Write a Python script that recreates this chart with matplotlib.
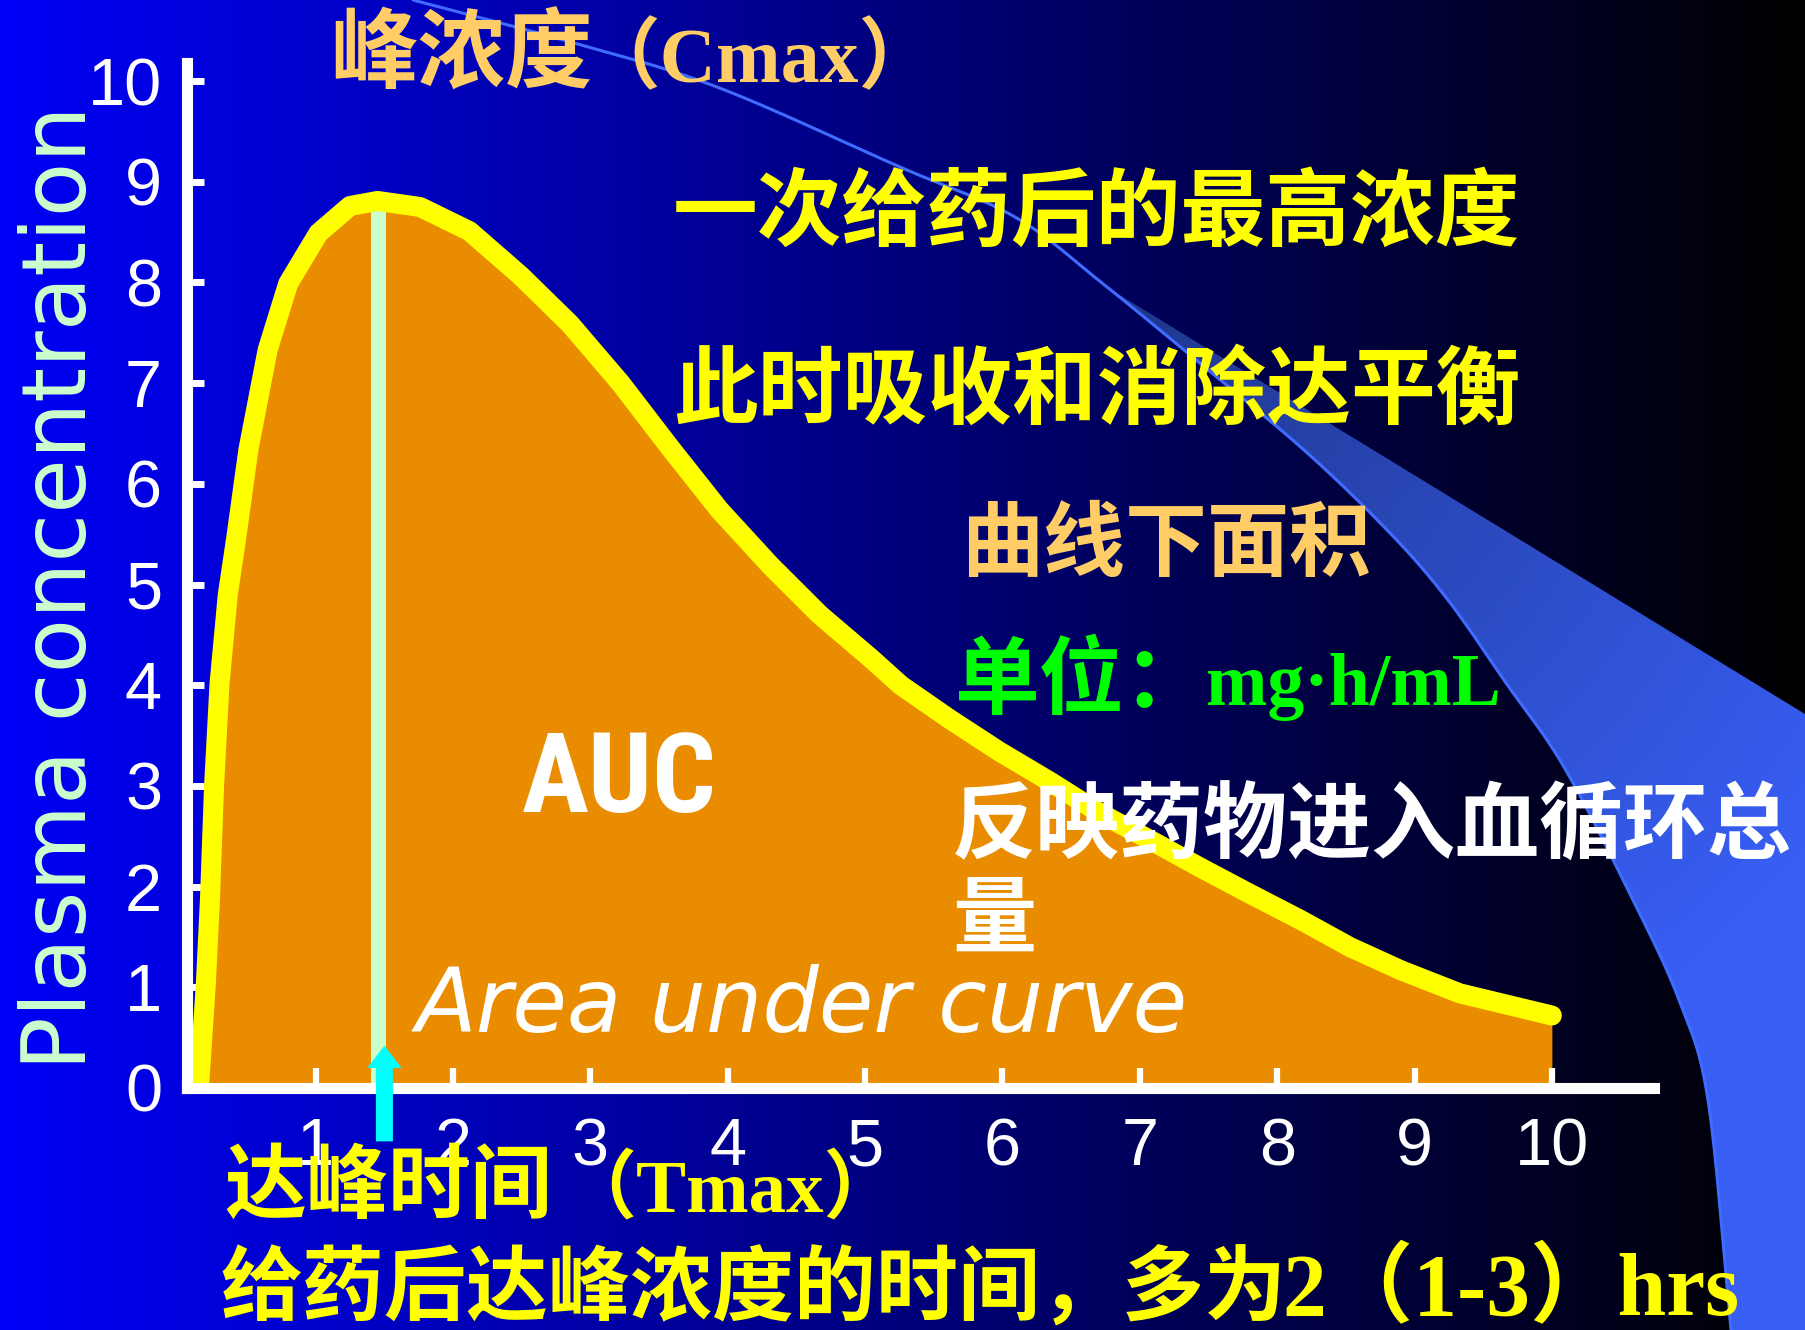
import numpy as np
import matplotlib
matplotlib.use("Agg")
import matplotlib.pyplot as plt
from matplotlib import font_manager
from matplotlib.patches import Polygon, FancyArrow

# Plasma concentration after a single oral dose (time in hours)
time_h = [0.15, 0.20, 0.23, 0.26, 0.30, 0.36, 0.42, 0.51, 0.65, 0.80, 1.02,
          1.25, 1.45, 1.76, 2.12, 2.49, 2.85, 3.22, 3.58, 3.94, 4.31, 4.67,
          5.04, 5.26, 5.62, 5.98, 6.35, 6.71, 7.08, 7.44, 7.80, 8.17, 8.53,
          8.90, 9.33, 10.0]
conc = [0.00, 1.03, 1.87, 3.00, 4.02, 4.90, 5.45, 6.34, 7.33, 7.99, 8.49,
        8.76, 8.81, 8.75, 8.51, 8.07, 7.59, 7.00, 6.36, 5.74, 5.19, 4.70,
        4.27, 4.00, 3.66, 3.34, 3.04, 2.73, 2.46, 2.19, 1.93, 1.67, 1.40,
        1.17, 0.94, 0.72]

x_ticks = [1, 2, 3, 4, 5, 6, 7, 8, 9, 10]
x_tick_labels = ["1", "2", "3", "4", "5", "6", "7", "8", "9", "10"]
y_ticks = [0, 1, 2, 3, 4, 5, 6, 7, 8, 9, 10]
y_tick_labels = ["0", "1", "2", "3", "4", "5", "6", "7", "8", "9", "10"]

# Tmax pointer (time, and the y-range it spans below / above the axis)
arrow_time = 1.5
arrow_from, arrow_to = -0.53, 0.42

W, H = 1805, 1330
fig = plt.figure(figsize=(W / 100, H / 100), dpi=100)

# ---------- slide background ----------
bg = fig.add_axes([0, 0, 1, 1], zorder=-10)
bg.set_xlim(0, W)
bg.set_ylim(H, 0)
bg.axis("off")
gx = np.linspace(0, 1, 600)
grad = np.zeros((2, gx.size, 3))
grad[..., 2] = 0.97 * (1 - gx)
bg.imshow(grad, extent=(0, W, H, 0), aspect="auto", interpolation="bilinear")


def catmull_rom(pts, n=24):
    pts = np.asarray(pts, float)
    p = np.vstack([2 * pts[0] - pts[1], pts, 2 * pts[-1] - pts[-2]])
    out = []
    for i in range(1, len(p) - 2):
        p0, p1, p2, p3 = p[i - 1], p[i], p[i + 1], p[i + 2]
        t = np.linspace(0, 1, n, endpoint=False)[:, None]
        out.append(0.5 * ((2 * p1) + (-p0 + p2) * t
                          + (2 * p0 - 5 * p1 + 4 * p2 - p3) * t ** 2
                          + (-p0 + 3 * p1 - 3 * p2 + p3) * t ** 3))
    out.append(pts[-1][None, :])
    return np.vstack(out)


arc_nodes = [(413, 0), (574, 43), (717, 87), (900, 167), (1015, 217),
             (1102, 283), (1196, 360), (1304, 450), (1390, 533), (1448, 600),
             (1506, 683), (1564, 767), (1633, 900), (1679, 1000),
             (1708, 1100), (1731, 1330)]
arc = catmull_rom(arc_nodes)
tip = np.array([1105.0, 286.0])
start = np.argmin(np.hypot(arc[:, 0] - tip[0], arc[:, 1] - tip[1]))
wedge_xy = np.vstack([arc[start:], [[W, H], [W, 714], tip]])
wedge = Polygon(wedge_xy, closed=True, facecolor="none", edgecolor="none")
bg.add_patch(wedge)

gxs = np.linspace(1090, W, 300)
gys = np.linspace(270, H, 300)
GX, GY = np.meshgrid(gxs, gys)
t = np.clip(np.hypot(GX - tip[0], GY - tip[1]) / 900.0, 0, 1)[..., None]
c0 = np.array([0.12, 0.21, 0.54])
c1 = np.array([0.22, 0.37, 0.96])
wimg = c0 * (1 - t) + c1 * t
im = bg.imshow(wimg, extent=(1090, W, H, 270), aspect="auto",
               interpolation="bilinear")
im.set_clip_path(wedge)
bg.plot(arc[:, 0], arc[:, 1], color="#3f6cff", lw=2.2, solid_capstyle="round")

# ---------- concentration-time chart ----------
x_lo, x_hi = 0.063, 10.74
y_lo, y_hi = 0.0, 10.18
ax = fig.add_axes([187 / W, (H - 1088) / H, (1653.5 - 187) / W, (1088 - 63) / H])
ax.set_facecolor("none")
ax.set_xlim(x_lo, x_hi)
ax.set_ylim(y_lo, y_hi)

ax.fill_between(time_h, conc, 0, color="#e98c00", lw=0, zorder=1)
i_peak = int(np.argmax(conc))
t_max, c_max = time_h[i_peak], conc[i_peak]
ax.vlines(t_max, 0, c_max, color="#ccffcc", lw=10.8, zorder=1.6)
ax.plot(time_h, conc, color="#ffff00", lw=14.4, solid_capstyle="round",
        solid_joinstyle="round", zorder=2)

ax.add_patch(FancyArrow(arrow_time, arrow_from, 0, arrow_to - arrow_from,
                        width=0.124, head_width=0.25, head_length=0.22,
                        length_includes_head=True, color="#00ffff", lw=0,
                        clip_on=False, zorder=5))

ax.set_xticks(x_ticks, x_tick_labels)
ax.set_yticks(y_ticks, y_tick_labels)
ax.tick_params(axis="x", direction="in", length=14.5, width=4.5, pad=21,
               colors="white", labelsize=48)
ax.tick_params(axis="y", direction="in", length=12.5, width=5, pad=18,
               colors="white", labelsize=48)
for lab in ax.get_xticklabels() + ax.get_yticklabels():
    lab.set_fontfamily("Liberation Sans")
for side in ("top", "right"):
    ax.spines[side].set_visible(False)
for side in ("left", "bottom"):
    ax.spines[side].set_color("white")
    ax.spines[side].set_linewidth(8)
    ax.spines[side].set_zorder(3)

ax.set_ylabel("Plasma concentration", color="#ccffcc", fontsize=64,
              family="DejaVu Sans", va="baseline")
ax.yaxis.set_label_coords((86 - 187) / 1466.5, (1088 - 588) / 1025)

# ---------- annotations ----------
CJK = ["Noto Sans CJK SC", "DejaVu Sans"]
MIX = ["Liberation Serif", "Noto Sans CJK SC", "DejaVu Sans"]
ORANGE = "#ffcc66"
YELLOW = "#ffff00"
GREEN = "#00ff00"
WHITE = "#ffffff"


def pick_narrow_sans():
    fonts = font_manager.fontManager.ttflist
    names = {f.name for f in fonts}
    for name in ("Liberation Sans Narrow", "Roboto Condensed",
                 "Open Sans Condensed", "DejaVu Sans Condensed"):
        if name in names:
            return name, "normal"
    for f in fonts:
        if f.name in ("Roboto", "Open Sans", "DejaVu Sans", "Noto Sans") and \
                str(f.stretch) in ("condensed", "semi-condensed", "extra-condensed"):
            return f.name, str(f.stretch)
    return "Liberation Sans", "normal"


def put(s, x, y, color, size, family, **kw):
    return fig.text(x / W, 1 - y / H, s, color=color, fontsize=size,
                    family=family, ha="left", va="baseline", **kw)


put("峰浓度", 330, 82, ORANGE, 63, CJK, weight="bold")
put("（Cmax）", 582, 82, ORANGE, 56, MIX, weight="bold")
put("一次给药后的最高浓度", 673, 239, YELLOW, 61, CJK, weight="bold")
put("此时吸收和消除达平衡", 673, 417, YELLOW, 61, CJK, weight="bold")
put("曲线下面积", 961, 570, ORANGE, 59, CJK, weight="bold")
put("单位：", 955, 707, GREEN, 61, CJK, weight="bold")
put("mg·h/mL", 1206, 705, GREEN, 53, MIX, weight="bold")
put("反映药物进入血循环总\n量", 952, 946, WHITE, 60.5, CJK, weight="bold",
    linespacing=1.13)

auc_family, auc_stretch = pick_narrow_sans()
auc = put("AUC", 522, 812, WHITE, 90, auc_family, weight="bold",
          fontstretch=auc_stretch)
renderer = fig.canvas.get_renderer()
auc_w = auc.get_window_extent(renderer).width
auc.set_fontsize(min(92, 90 * 195.0 / auc_w))

put("Area under curve", 416, 1032, WHITE, 64, "DejaVu Sans", style="italic")
put("达峰时间", 224, 1212, YELLOW, 59, CJK, weight="bold")
put("（Tmax）", 561, 1212, YELLOW, 54, MIX, weight="bold")
put("给药后达峰浓度的时间，多为", 221, 1315, YELLOW, 59, CJK, weight="bold")
put("2（1-3）hrs", 1282, 1315, YELLOW, 63, MIX, weight="bold")

fig.savefig("out.png", dpi=100, facecolor="black")
